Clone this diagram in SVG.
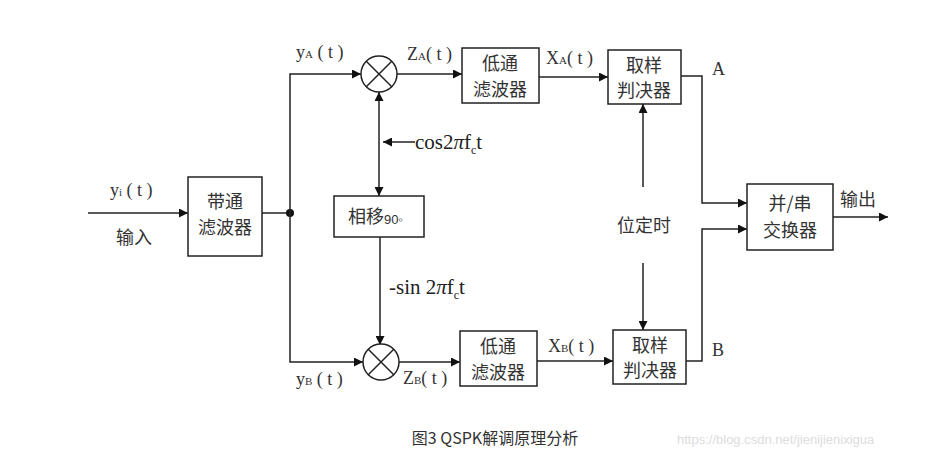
<svg xmlns="http://www.w3.org/2000/svg" width="930" height="454" viewBox="0 0 930 454">
<defs>
<marker id="ar" viewBox="0 0 10 10" refX="10" refY="5" markerWidth="9" markerHeight="9" markerUnits="userSpaceOnUse" orient="auto"><path d="M0,0 L10,5 L0,10 Z" fill="#111"/></marker>
<style>
.b{fill:#fff;stroke:#222;stroke-width:1.5}
.l{fill:none;stroke:#222;stroke-width:1.5}
.a{fill:none;stroke:#222;stroke-width:1.5;marker-end:url(#ar)}
.t{font-family:"Noto Sans CJK SC","Noto Sans CJK JP",sans-serif;font-size:18px;fill:#333;text-anchor:middle}
.m{font-family:"Liberation Serif","DejaVu Serif",serif;font-size:18px;fill:#333}
.f{font-family:"Liberation Serif","DejaVu Serif",serif;font-size:21px;fill:#222}
.s{font-size:11px}
</style>
</defs>
<rect width="930" height="454" fill="#fff"/>
<g id="connectors">
<path class="a" d="M88,213 H188"/>
<path class="l" d="M262,213 H290"/>
<circle cx="290" cy="213" r="4" fill="#111"/>
<path class="a" d="M290,213 V74 H361"/>
<path class="a" d="M290,213 V362 H363"/>
<path class="a" d="M397,74 H462"/>
<path class="a" d="M399,362 H460"/>
<path class="a" d="M539,77 H608"/>
<path class="a" d="M537,361 H613"/>
<path class="a" d="M379,140 V92"/>
<path class="a" d="M379,140 V196"/>
<path class="a" d="M415,142 H383"/>
<path class="a" d="M380,237 V345"/>
<path class="a" d="M643,187 V104"/>
<path class="a" d="M643,263 V330"/>
<path class="a" d="M681,76 H702 V203 H747"/>
<path class="a" d="M686,361 H702 V229 H747"/>
<path class="a" d="M833,217 H888"/>
</g>
<g id="bpf"><rect class="b" x="188" y="177" width="74" height="79"/><text class="t" x="225" y="208">带通</text><text class="t" x="225" y="234">滤波器</text></g>
<g id="mulA"><circle class="b" cx="379" cy="74" r="18"/><path class="l" d="M366,61 L392,87 M392,61 L366,87"/></g>
<g id="mulB"><circle class="b" cx="381" cy="362" r="18"/><path class="l" d="M368,349 L394,375 M394,349 L368,375"/></g>
<g id="lpfA"><rect class="b" x="462" y="48" width="77" height="55"/><text class="t" x="500" y="70">低通</text><text class="t" x="500" y="96">滤波器</text></g>
<g id="lpfB"><rect class="b" x="460" y="331" width="77" height="55"/><text class="t" x="498" y="353">低通</text><text class="t" x="498" y="379">滤波器</text></g>
<g id="phase"><rect class="b" x="334" y="196" width="90" height="41"/><text class="t" x="366" y="223">相移</text><text x="384" y="224" style="font-family:'Liberation Sans',sans-serif;font-size:13px;fill:#333">90◦</text></g>
<g id="sampA"><rect class="b" x="608" y="50" width="73" height="54"/><text class="t" x="644" y="72">取样</text><text class="t" x="644" y="97">判决器</text></g>
<g id="sampB"><rect class="b" x="613" y="330" width="73" height="54"/><text class="t" x="650" y="352">取样</text><text class="t" x="650" y="377">判决器</text></g>
<g id="ps"><rect class="b" x="747" y="184" width="86" height="66"/><text class="t" x="790" y="210">并/串</text><text class="t" x="790" y="237">交换器</text></g>
<g id="labels">
<text class="m" x="110" y="196">y<tspan class="s">i</tspan> ( t )</text>
<text class="t" x="134" y="244">输入</text>
<text class="m" x="296" y="58">y<tspan class="s">A</tspan> ( t )</text>
<text class="m" x="296" y="385">y<tspan class="s">B</tspan> ( t )</text>
<text class="m" x="407" y="60">Z<tspan class="s">A</tspan>( t )</text>
<text class="m" x="403" y="384">Z<tspan class="s">B</tspan>( t )</text>
<text class="m" x="546" y="64">X<tspan class="s">A</tspan>( t )</text>
<text class="m" x="548" y="352">X<tspan class="s">B</tspan>( t )</text>
<text class="f" x="415" y="149">cos2<tspan font-style="italic">π</tspan>f<tspan font-size="12" dy="5">c</tspan><tspan dy="-5">t</tspan></text>
<text class="f" x="389" y="294">-sin 2<tspan font-style="italic">π</tspan>f<tspan font-size="12" dy="5">c</tspan><tspan dy="-5">t</tspan></text>
<text class="t" x="644" y="232">位定时</text>
<text class="m" x="712" y="75">A</text>
<text class="m" x="712" y="356">B</text>
<text class="t" x="858" y="206">输出</text>
<text x="495" y="444" style="font-family:'Noto Sans CJK SC',sans-serif;font-size:16px;fill:#333;text-anchor:middle">图3 QSPK解调原理分析</text>
<text x="677" y="444" style="font-family:'Liberation Sans',sans-serif;font-size:13px;fill:#ddd">https://blog.csdn.net/jienijienixigua</text>
</g>
</svg>
